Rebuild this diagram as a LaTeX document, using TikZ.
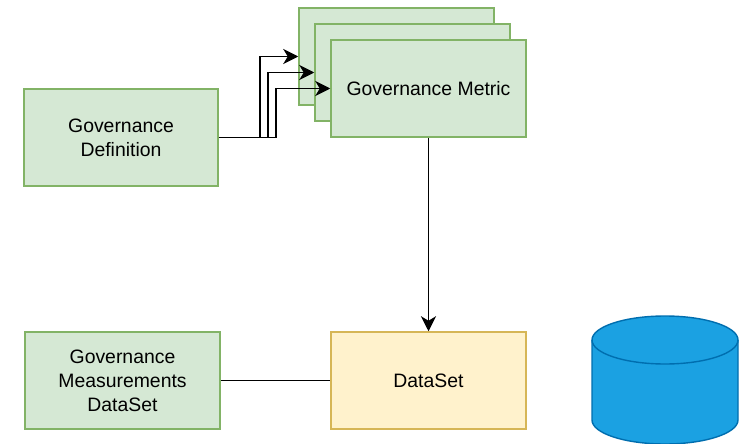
\documentclass[tikz,border=0pt]{standalone}
\usepackage{fontspec}
\setmainfont{Liberation Sans}
\usetikzlibrary{arrows.meta}
\definecolor{gfill}{HTML}{D5E8D4}
\definecolor{gline}{HTML}{82B366}
\definecolor{yfill}{HTML}{FFF2CC}
\definecolor{yline}{HTML}{D6B656}
\definecolor{cfill}{HTML}{1BA1E2}
\definecolor{cline}{HTML}{006EAF}
\tikzset{
  box/.style={draw,line width=1.5pt,minimum width=195pt,minimum height=97pt,inner sep=0pt,align=center,
    font=\fontsize{19.4pt}{24pt}\selectfont},
  greenbox/.style={box,fill=gfill,draw=gline},
  yellowbox/.style={box,fill=yfill,draw=yline},
  conn/.style={draw=black,line width=1.8pt},
  arrowconn/.style={conn,-{Stealth[length=15pt,width=15pt,inset=4.5pt]}},
  cyl/.style={fill=cfill,draw=cline,line width=1.4pt}
}
\begin{document}
\begin{tikzpicture}[x=1pt,y=-1pt]
\useasboundingbox (0,0) rectangle (745,444);
\node[greenbox] (m1) at (396.5,56.5) {};
\node[greenbox] (m2) at (412.5,72.5) {};
\node[greenbox] (m3) at (428.5,88.5) {Governance Metric};
\node[greenbox,minimum width=194pt] (def) at (121,137.5) {Governance\\Definition};
\node[greenbox] (gmd) at (122.5,380.5) {Governance\\Measurements\\DataSet};
\node[yellowbox] (ds) at (428.5,380.5) {DataSet};
\draw[arrowconn] (def.east) -- ++(41,0) |- (m1.west);
\draw[arrowconn] (def.east) -- ++(49,0) |- (m2.west);
\draw[arrowconn] (def.east) -- ++(57,0) |- (m3.west);
\draw[arrowconn] (m3.south) -- (ds.north);
\draw[conn] (gmd.east) -- (ds.west);
\path[cyl] (592,340) arc[x radius=73,y radius=24,start angle=180,end angle=360]
  -- (738,420) arc[x radius=73,y radius=24,start angle=0,end angle=180] -- cycle;
\draw[cyl,fill=none] (592,340) arc[x radius=73,y radius=24,start angle=180,end angle=0];
\end{tikzpicture}
\end{document}
